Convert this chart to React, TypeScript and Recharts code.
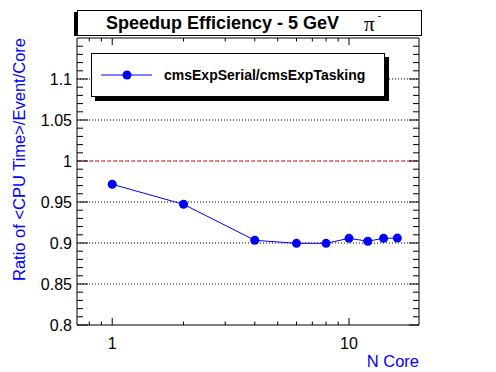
import React from "react";
import { LineChart, Line, XAxis, YAxis, ReferenceLine } from "recharts";

// measured points
const nCore = [1, 2, 4, 6, 8, 10, 12, 14, 16];
const ratio = [0.9716, 0.9472, 0.9033, 0.8996, 0.8996, 0.9057, 0.9022, 0.9057, 0.906];

const xMajorTicks = [1, 10];
const xMinorTicks = [0.8, 0.9, 2, 3, 4, 5, 6, 7, 8, 9];
const xTickLabels = ["1", "10"];
const yMajorTicks = [0.8, 0.85, 0.9, 0.95, 1, 1.05, 1.1];
const yTickLabels = ["0.8", "0.85", "0.9", "0.95", "1", "1.05", "1.1"];
const gridLevels = [0.85, 0.9, 0.95, 1.05, 1.1];

const yMinorTicks = Array.from({ length: 35 }, (_, i) => +(0.8 + i * 0.01).toFixed(2))
  .filter(v => !yMajorTicks.some(m => Math.abs(m - v) < 1e-6));

const data = nCore.map((n, i) => ({ n, ratio: ratio[i] }));

const BLUE = "#0000ff";
const FONT = "'Liberation Sans', Arial, Helvetica, sans-serif";

const isMajor = (list: number[], v: number) => list.some(m => Math.abs(m - v) < 1e-6);

function XTick(props: any) {
  const { x, y, payload, side } = props;
  const v = payload.value;
  const major = isMajor(xMajorTicks, v);
  const len = major ? 7 : 3.5;
  const dir = side === "top" ? 1 : -1;
  const idx = xMajorTicks.findIndex(m => Math.abs(m - v) < 1e-6);
  return (
    <g>
      <line x1={x} y1={y} x2={x} y2={y + dir * len} stroke="#000" strokeWidth={1} />
      {side === "bottom" && idx >= 0 && (
        <text x={x} y={y + 23.5} textAnchor="middle" fontSize={16} fontFamily={FONT} fill="#000">
          {xTickLabels[idx]}
        </text>
      )}
    </g>
  );
}

function YTick(props: any) {
  const { x, y, payload, side } = props;
  const v = payload.value;
  const major = isMajor(yMajorTicks, v);
  const len = side === "left" ? (major ? 11 : 6) : (major ? 10 : 6);
  const dir = side === "left" ? 1 : -1;
  const idx = yMajorTicks.findIndex(m => Math.abs(m - v) < 1e-6);
  return (
    <g>
      <line x1={x} y1={y} x2={x + dir * len} y2={y} stroke="#000" strokeWidth={1} />
      {side === "left" && idx >= 0 && (
        <text x={x - 5} y={y + 5.5} textAnchor="end" fontSize={16} fontFamily={FONT} fill="#000">
          {yTickLabels[idx]}
        </text>
      )}
    </g>
  );
}

export default function App() {
  const xTicks = [...xMinorTicks, ...xMajorTicks].sort((a, b) => a - b);
  const yTicks = [...yMinorTicks, ...yMajorTicks].sort((a, b) => a - b);
  return (
    <div style={{ position: "absolute", left: 0, top: 0, width: 496, height: 372, background: "white" }}>
      <LineChart width={496} height={372} data={data} margin={{ top: 37, right: 76, bottom: 46, left: 76 }}>
        <XAxis xAxisId="bottom" dataKey="n" type="number" scale="log" domain={[0.71, 19.75]} allowDataOverflow
          ticks={xTicks} interval={0} height={1} tickSize={0} tickMargin={0} tickLine={false}
          axisLine={{ stroke: "#000" }} tick={<XTick side="bottom" />} />
        <XAxis xAxisId="top" orientation="top" dataKey="n" type="number" scale="log" domain={[0.71, 19.75]} allowDataOverflow
          ticks={xTicks} interval={0} height={1} tickSize={0} tickMargin={0} tickLine={false}
          axisLine={{ stroke: "#000" }} tick={<XTick side="top" />} />
        <YAxis yAxisId="left" type="number" domain={[0.8, 1.15]} allowDataOverflow
          ticks={yTicks} interval={0} width={1} tickSize={0} tickMargin={0} tickLine={false}
          axisLine={{ stroke: "#000" }} tick={<YTick side="left" />} />
        <YAxis yAxisId="right" orientation="right" type="number" domain={[0.8, 1.15]} allowDataOverflow
          ticks={yTicks} interval={0} width={1} tickSize={0} tickMargin={0} tickLine={false}
          axisLine={{ stroke: "#000" }} tick={<YTick side="right" />} />

        {gridLevels.map(g => (
          <ReferenceLine key={g} xAxisId="bottom" yAxisId="left" y={g} stroke="#000" strokeDasharray="1 2" />
        ))}
        <ReferenceLine xAxisId="bottom" yAxisId="left" y={1} stroke="#ff0000" strokeDasharray="3 3" />
        <ReferenceLine xAxisId="bottom" yAxisId="left" y={1} stroke="#000" strokeDasharray="1 5" strokeDashoffset={-3} />

        <Line xAxisId="top" yAxisId="right" dataKey="ratio" stroke="none" dot={false} isAnimationActive={false} legendType="none" />
        <Line xAxisId="bottom" yAxisId="left" type="linear" dataKey="ratio" stroke={BLUE} strokeWidth={1}
          dot={{ r: 4.5, fill: BLUE, stroke: "none" }} activeDot={false} isAnimationActive={false} />
      </LineChart>

      <svg width={496} height={372} style={{ position: "absolute", left: 0, top: 0, pointerEvents: "none" }}>
        {/* title box */}
        <rect x={74} y={12} width={3} height={24} fill="#000" />
        <rect x={77.5} y={10.5} width={344} height={25} fill="#fff" stroke="#000" strokeWidth={1} />
        <text x={106} y={29} fontSize={18} fontWeight="bold" fontFamily={FONT} fill="#000">
          Speedup Efficiency - 5 GeV
          <tspan x={364} y={31} fontWeight="normal" fontFamily="'Liberation Serif', 'DejaVu Serif', serif" fontSize={21}>π</tspan>
          <tspan x={377.5} y={19} fontSize={11} fontWeight="normal">-</tspan>
        </text>

        {/* legend */}
        <rect x={95} y={57} width={294} height={44} fill="#000" />
        <rect x={91.5} y={53.5} width={293} height={43} fill="#fff" stroke="#000" strokeWidth={1} />
        <line x1={101} y1={75} x2={152} y2={75} stroke={BLUE} strokeWidth={1} />
        <circle cx={127} cy={75} r={4.5} fill={BLUE} />
        <text x={164} y={80} fontSize={14} fontWeight="bold" fontFamily={FONT} fill="#000">
          cmsExpSerial/cmsExpTasking
        </text>

        {/* axis titles */}
        <text transform="translate(24.5,38) rotate(-90)" textAnchor="end" fontSize={16.5} fontFamily={FONT} fill={BLUE}>
          {"Ratio of <CPU Time>/Event/Core"}
        </text>
        <text x={419} y={367} textAnchor="end" fontSize={16.5} fontFamily={FONT} fill={BLUE}>
          N Core
        </text>
      </svg>
    </div>
  );
}
